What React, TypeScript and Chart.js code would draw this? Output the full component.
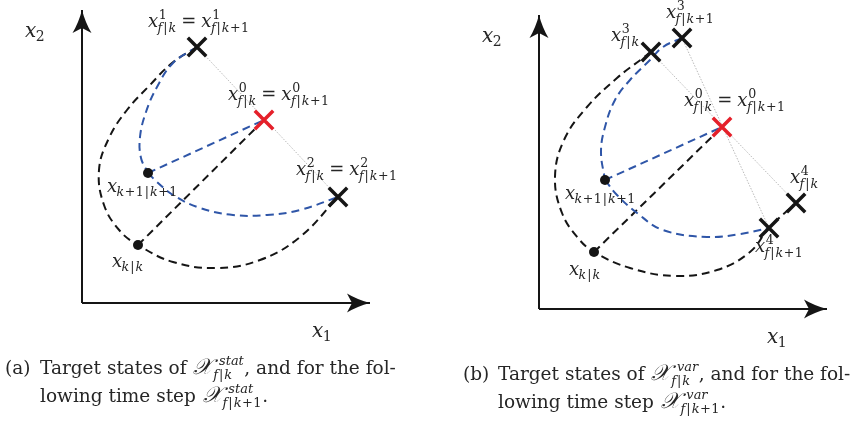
import React, { useEffect, useRef } from "react";
import { Chart, registerables } from "chart.js";
Chart.register(...registerables);

type P = { x: number; y: number };
const pts = (a: number[][]): P[] => a.map(([x, y]) => ({ x, y }));

// ---------------- Panel (a): stationary targets ----------------
const aAxisX2 = pts([[82, 303], [82, 10]]);
const aAxisX1 = pts([[82, 303], [370, 303]]);
const aTargetsBlack = pts([[197, 47], [338, 197]]); // x^1, x^2
const aTargetRed = pts([[264, 120]]); // x^0
const aStates = pts([[148, 173], [138, 245]]); // x_{k+1|k+1}, x_{k|k}
const aLinkGray = pts([[197, 47], [338, 197]]);
const aPathBlack = pts([
  [197, 47], [172, 63], [150, 85], [127, 110], [109, 138], [99, 170], [104, 205], [120, 231],
  [138, 245], [173, 262], [217, 268], [260, 260], [300, 237], [338, 197],
]);
const aPathBlueUp = pts([[197, 47], [173, 63], [157, 87], [146, 112], [140, 137], [141, 158], [148, 173]]);
const aPathBlueLow = pts([[148, 173], [157, 182], [173, 195], [200, 208], [233, 215], [267, 215], [300, 210], [338, 197]]);
const aRayBlack = pts([[138, 245], [264, 120]]);
const aRayBlue = pts([[148, 173], [264, 120]]);

// ---------------- Panel (b): variable targets ----------------
const bAxisX2 = pts([[539, 309], [539, 15]]);
const bAxisX1 = pts([[539, 309], [827, 309]]);
const bTargetsBlack = pts([[651, 52], [682, 38], [796, 203], [769, 228]]); // x^3_k, x^3_k+1, x^4_k, x^4_k+1
const bTargetRed = pts([[722, 127]]);
const bStates = pts([[605, 180], [594, 252]]);
const bLinkGray1 = pts([[651, 52], [796, 203]]);
const bLinkGray2 = pts([[682, 38], [769, 228]]);
const bPathBlack = pts([
  [651, 52], [643, 58], [617, 78], [587, 107], [564, 140], [555, 177], [562, 213], [578, 238],
  [594, 252], [630, 268], [675, 276], [717, 270], [750, 252], [769, 228], [796, 203],
]);
const bPathBlueUp = pts([[682, 38], [663, 47], [650, 60], [630, 80], [615, 100], [605, 127], [601, 152], [605, 180]]);
const bPathBlueLow = pts([[605, 180], [617, 195], [637, 213], [663, 230], [707, 237], [740, 234], [769, 228]]);
const bRayBlack = pts([[594, 252], [722, 127]]);
const bRayBlue = pts([[605, 180], [722, 127]]);

// ---------------- Text ----------------
const pointLabels = [
  "x^1_{f|k} = x^1_{f|k+1}",
  "x^0_{f|k} = x^0_{f|k+1}",
  "x^2_{f|k} = x^2_{f|k+1}",
  "x_{k+1|k+1}",
  "x_{k|k}",
  "x^3_{f|k+1}",
  "x^3_{f|k}",
  "x^0_{f|k} = x^0_{f|k+1}",
  "x^4_{f|k}",
  "x^4_{f|k+1}",
  "x_{k+1|k+1}",
  "x_{k|k}",
];
const axisLabels = ["x_2", "x_1", "x_2", "x_1"];
const captionTags = ["(a)", "(b)"];
const captionLines = [
  ["Target states of $𝒳^{stat}_{f|k}$, and for the fol-", "lowing time step $𝒳^{stat}_{f|k+1}$."],
  ["Target states of $𝒳^{var}_{f|k}$, and for the fol-", "lowing time step $𝒳^{var}_{f|k+1}$."],
];

// ---------------- Layout (left / baseline of text) ----------------
const pointLabelPos = [
  [148, 27], [228, 100], [296, 175], [107, 192], [112, 267],
  [666, 18], [611, 41], [684, 106], [790, 183], [755, 252], [565, 199], [569, 275],
];
const axisLabelPos = [[25, 37], [312, 337], [482, 42], [767, 343]];
const captionPos = [
  { tag: 5, text: 40, y1: 374, y2: 402 },
  { tag: 463, text: 498, y1: 380, y2: 408 },
];

const W = 855;
const H = 421;
const BLACK = "#151515";
const BLUE = "#2f56a8";
const RED = "#e5202a";
const GRAY = "#a8a8a8";
const TEXT = "#262626";
const FONT = '"DejaVu Serif"';

function readArg(s: string, i: number): [string, number] {
  if (s[i] === "{") {
    let d = 1;
    let j = i + 1;
    while (j < s.length && d > 0) {
      if (s[j] === "{") d++;
      else if (s[j] === "}") d--;
      j++;
    }
    return [s.slice(i + 1, j - 1), j];
  }
  const cp = String.fromCodePoint(s.codePointAt(i)!);
  return [cp, i + cp.length];
}

function mathRun(ctx: CanvasRenderingContext2D, s: string, x: number, y: number, size: number, level: number): number {
  let cx = x;
  let i = 0;
  while (i < s.length) {
    const ch = String.fromCodePoint(s.codePointAt(i)!);
    i += ch.length;
    if (ch === " ") continue;
    let sup: string | null = null;
    let sub: string | null = null;
    while (s[i] === "^" || s[i] === "_") {
      const t = s[i];
      const [arg, ni] = readArg(s, i + 1);
      i = ni;
      if (t === "^") sup = arg;
      else sub = arg;
    }
    let gap = 0;
    if (level === 0) gap = ch === "=" ? 0.28 * size : ch === "+" ? 0.22 * size : 0;
    else gap = ch === "|" ? 0.08 * size : ch === "+" ? 0.04 * size : 0;
    cx += gap;
    const cal = ch === "𝒳";
    const italic = /[A-Za-z]/.test(ch) || cal;
    const gsize = cal ? size * 1.2 : size;
    ctx.font = `${italic ? "italic " : ""}${gsize}px ${FONT}`;
    ctx.fillText(ch, cx, y);
    cx += ctx.measureText(ch).width;
    const ss = size * 0.7;
    const supOff = cal ? size * 0.36 : size * 0.04;
    const subOff = cal ? size * 0.04 : -size * 0.03;
    const supRise = cal ? 0.5 : 0.42;
    let sw = 0;
    if (sup !== null) sw = Math.max(sw, mathRun(ctx, sup, cx + supOff, y - size * supRise, ss, level + 1) + supOff);
    if (sub !== null) sw = Math.max(sw, mathRun(ctx, sub, cx + subOff, y + size * (sup !== null ? 0.27 : 0.2), ss, level + 1) + subOff);
    cx += sw + gap;
  }
  return cx - x;
}

function richText(ctx: CanvasRenderingContext2D, s: string, x: number, y: number, size: number) {
  const parts = s.split("$");
  let cx = x;
  parts.forEach((p, k) => {
    if (k % 2 === 1) cx += mathRun(ctx, p, cx + size * 0.05, y, size, 0) + size * 0.08;
    else {
      ctx.font = `${size}px ${FONT}`;
      ctx.fillText(p, cx, y);
      cx += ctx.measureText(p).width;
    }
  });
}

const diagramPlugin = {
  id: "diagram",
  beforeDraw(chart: any) {
    const ctx = chart.ctx;
    ctx.save();
    ctx.fillStyle = "#ffffff";
    ctx.fillRect(0, 0, chart.width, chart.height);
    ctx.restore();
  },
  afterDatasetsDraw(chart: any) {
    const ctx: CanvasRenderingContext2D = chart.ctx;
    const xs = chart.scales.x;
    const ys = chart.scales.y;
    ctx.save();
    // arrowheads on axes
    chart.data.datasets.forEach((ds: any, i: number) => {
      if (!ds.arrow) return;
      const el = chart.getDatasetMeta(i).data;
      const a = el[el.length - 2];
      const b = el[el.length - 1];
      const dx = b.x - a.x;
      const dy = b.y - a.y;
      const len = Math.hypot(dx, dy);
      const ux = dx / len;
      const uy = dy / len;
      const nx = -uy;
      const ny = ux;
      const L = 23;
      const hw = 9.5;
      const notch = 5;
      ctx.beginPath();
      ctx.moveTo(b.x, b.y);
      ctx.quadraticCurveTo(b.x - ux * L * 0.55 + nx * hw * 0.35, b.y - uy * L * 0.55 + ny * hw * 0.35, b.x - ux * L + nx * hw, b.y - uy * L + ny * hw);
      ctx.lineTo(b.x - ux * (L - notch), b.y - uy * (L - notch));
      ctx.lineTo(b.x - ux * L - nx * hw, b.y - uy * L - ny * hw);
      ctx.quadraticCurveTo(b.x - ux * L * 0.55 - nx * hw * 0.35, b.y - uy * L * 0.55 - ny * hw * 0.35, b.x, b.y);
      ctx.closePath();
      ctx.fillStyle = BLACK;
      ctx.fill();
    });
    ctx.fillStyle = TEXT;
    ctx.textBaseline = "alphabetic";
    ctx.textAlign = "left";
    pointLabels.forEach((t, i) => {
      const [x, y] = pointLabelPos[i];
      mathRun(ctx, t, xs.getPixelForValue(x), ys.getPixelForValue(y), 18, 0);
    });
    axisLabels.forEach((t, i) => {
      const [x, y] = axisLabelPos[i];
      mathRun(ctx, t, xs.getPixelForValue(x), ys.getPixelForValue(y), 20, 0);
    });
    captionTags.forEach((tag, i) => {
      const p = captionPos[i];
      ctx.font = `18.5px ${FONT}`;
      ctx.fillText(tag, xs.getPixelForValue(p.tag), ys.getPixelForValue(p.y1));
      richText(ctx, captionLines[i][0], xs.getPixelForValue(p.text), ys.getPixelForValue(p.y1), 18.5);
      richText(ctx, captionLines[i][1], xs.getPixelForValue(p.text), ys.getPixelForValue(p.y2), 18.5);
    });
    ctx.restore();
  },
};

const dashed = (data: P[], color: string, tension: number) => ({
  data,
  showLine: true,
  borderColor: color,
  borderWidth: 2,
  borderDash: [8, 5],
  tension,
  pointRadius: 0,
  fill: false,
  clip: false as any,
});
const solid = (data: P[], color: string, width: number, dash: number[] = [], arrow = false) => ({
  data,
  showLine: true,
  borderColor: color,
  borderWidth: width,
  borderDash: dash,
  tension: 0,
  pointRadius: 0,
  fill: false,
  clip: false as any,
  arrow,
});
const crosses = (data: P[], color: string) => ({
  data,
  showLine: false,
  pointStyle: "crossRot",
  pointRadius: 13,
  pointBorderWidth: 3.5,
  pointBorderColor: color,
  pointBackgroundColor: color,
  clip: false as any,
});
const dots = (data: P[]) => ({
  data,
  showLine: false,
  pointStyle: "circle",
  pointRadius: 5,
  pointBorderWidth: 0,
  pointBackgroundColor: BLACK,
  pointBorderColor: BLACK,
  clip: false as any,
});

export default function App() {
  const ref = useRef<HTMLCanvasElement>(null);
  useEffect(() => {
    if (!ref.current) return;
    const chart = new Chart(ref.current, {
      type: "scatter",
      data: {
        datasets: [
          // first dataset is drawn on top
          crosses(aTargetRed, RED),
          crosses(aTargetsBlack, BLACK),
          crosses(bTargetRed, RED),
          crosses(bTargetsBlack, BLACK),
          dots(aStates),
          dots(bStates),
          dashed(aPathBlueUp, BLUE, 0.4),
          dashed(aPathBlueLow, BLUE, 0.4),
          dashed(aRayBlue, BLUE, 0),
          dashed(bPathBlueUp, BLUE, 0.4),
          dashed(bPathBlueLow, BLUE, 0.4),
          dashed(bRayBlue, BLUE, 0),
          dashed(aPathBlack, BLACK, 0.4),
          dashed(aRayBlack, BLACK, 0),
          dashed(bPathBlack, BLACK, 0.4),
          dashed(bRayBlack, BLACK, 0),
          solid(aLinkGray, GRAY, 0.8, [1.5, 1.5]),
          solid(bLinkGray1, GRAY, 0.8, [1.5, 1.5]),
          solid(bLinkGray2, GRAY, 0.8, [1.5, 1.5]),
          solid(aAxisX2, BLACK, 2, [], true),
          solid(aAxisX1, BLACK, 2, [], true),
          solid(bAxisX2, BLACK, 2, [], true),
          solid(bAxisX1, BLACK, 2, [], true),
        ] as any,
      },
      options: {
        animation: false,
        responsive: false,
        devicePixelRatio: 1,
        events: [],
        layout: { padding: 0, autoPadding: false },
        plugins: { legend: { display: false }, tooltip: { enabled: false } },
        scales: {
          x: { type: "linear", min: 0, max: W, display: false },
          y: { type: "linear", min: 0, max: H, reverse: true, display: false },
        },
      },
      plugins: [diagramPlugin],
    });
    return () => chart.destroy();
  }, []);
  return (
    <div style={{ position: "absolute", left: 0, top: 0, width: W, height: H, background: "#fff" }}>
      <canvas ref={ref} width={W} height={H} style={{ display: "block" }} />
    </div>
  );
}
